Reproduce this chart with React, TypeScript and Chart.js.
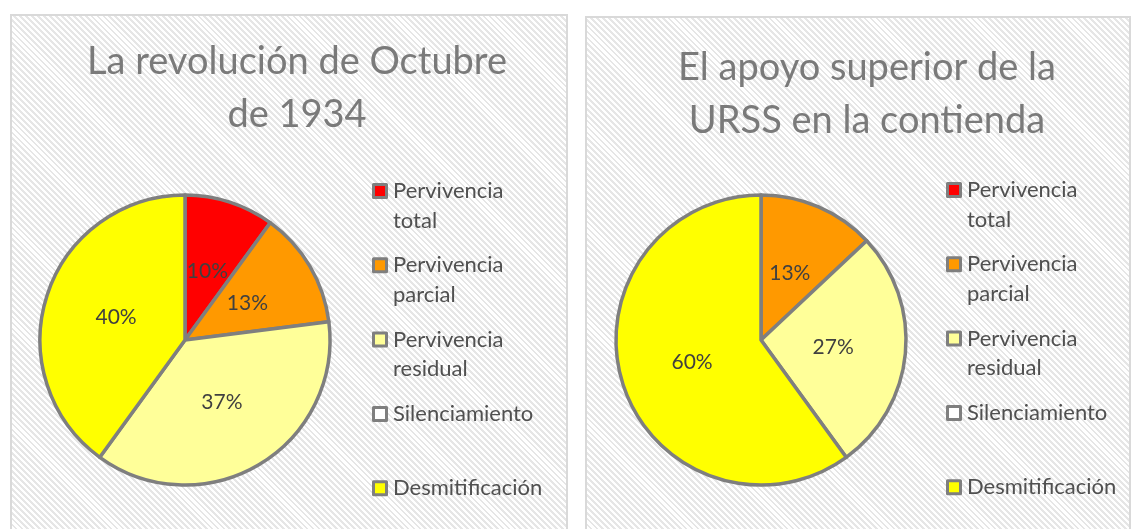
import React, { useEffect, useRef } from "react";
import { Chart, registerables } from "chart.js";

Chart.register(...registerables);

// ---- data ----
const categories = [
  "Pervivencia total",
  "Pervivencia parcial",
  "Pervivencia residual",
  "Silenciamiento",
  "Desmitificación",
];
const sliceColors = ["#FF0000", "#FF9900", "#FFFF99", "#FFFFFF", "#FFFF00"];
const octubreValues = [10, 13, 37, 0, 40];
const urssValues = [0, 13, 27, 0, 60];
const octubreTitle = ["La revolución de Octubre", "de 1934"];
const urssTitle = ["El apoyo superior de la", "URSS en la contienda"];

const FONT = "Lato, 'Open Sans', sans-serif";
const BORDER = "#7f7f7f";

const cardPlugin = {
  id: "card",
  afterDraw(chart: any, _args: any, opts: any) {
    const ctx = chart.ctx as CanvasRenderingContext2D;
    ctx.save();
    // title
    ctx.fillStyle = "#7a7a7a";
    ctx.font = `${opts.titleSize}px ${FONT}`;
    ctx.textAlign = "center";
    ctx.textBaseline = "middle";
    (opts.title as string[]).forEach((line, i) =>
      ctx.fillText(line, opts.titleX, opts.titleY + i * opts.titleLineHeight)
    );

    // data labels
    const meta = chart.getDatasetMeta(0);
    const data = chart.data.datasets[0].data as number[];
    ctx.fillStyle = "#404040";
    ctx.font = `${opts.labelSize}px ${FONT}`;
    meta.data.forEach((arc: any, i: number) => {
      if (!data[i]) return;
      const p = arc.tooltipPosition();
      ctx.fillText(data[i] + "%", p.x, p.y);
    });

    // legend
    const labels = chart.data.labels as string[];
    const colors = chart.data.datasets[0].backgroundColor as string[];
    ctx.textAlign = "left";
    ctx.font = `${opts.legendSize}px ${FONT}`;
    labels.forEach((label, i) => {
      const cy = opts.legendY + i * opts.legendStep;
      const bx = opts.legendX;
      const s = opts.boxSize;
      ctx.fillStyle = colors[i];
      ctx.fillRect(bx + 1.5, cy - s / 2 + 1.5, s - 3, s - 3);
      ctx.strokeStyle = BORDER;
      ctx.lineWidth = 3;
      ctx.lineJoin = "round";
      ctx.strokeRect(bx + 1.5, cy - s / 2 + 1.5, s - 3, s - 3);
      ctx.fillStyle = "#505050";
      label.split(" ").forEach((ln, j) => {
        ctx.fillText(ln, bx + opts.textGap, cy + j * opts.legendLineHeight);
      });
    });
    ctx.restore();
  },
};

type CardProps = {
  left: number;
  top: number;
  width: number;
  height: number;
  values: number[];
  title: string[];
  padding: { left: number; top: number; right: number; bottom: number };
  titleX: number;
  titleY: number;
  legendX: number;
  legendY: number;
};

function PieCard(p: CardProps) {
  const ref = useRef<HTMLCanvasElement | null>(null);
  const cw = p.width - 4;
  const ch = p.height - 2;

  useEffect(() => {
    if (!ref.current) return;
    const chart = new Chart(ref.current, {
      type: "pie",
      data: {
        labels: categories,
        datasets: [
          {
            data: p.values,
            backgroundColor: sliceColors,
            borderColor: BORDER,
            borderWidth: 3.5,
            hoverOffset: 0,
            borderJoinStyle: "round",
          } as any,
        ],
      },
      options: {
        animation: false,
        responsive: false,
        devicePixelRatio: 1,
        radius: 145,
        layout: { padding: p.padding },
        events: [],
        plugins: {
          legend: { display: false },
          title: { display: false },
          tooltip: { enabled: false },
          card: {
            title: p.title,
            titleX: p.titleX,
            titleY: p.titleY,
            titleSize: 38,
            titleLineHeight: 53,
            labelSize: 21,
            legendSize: 22,
            legendX: p.legendX,
            legendY: p.legendY,
            legendStep: 74.3,
            legendLineHeight: 29.5,
            boxSize: 16,
            textGap: 21,
          },
        } as any,
      } as any,
      plugins: [cardPlugin as any],
    });
    return () => chart.destroy();
  }, []);

  return (
    <div
      style={{
        position: "absolute",
        left: p.left,
        top: p.top,
        width: p.width,
        height: p.height,
        boxSizing: "border-box",
        border: "2px solid #d9d9d9",
        borderBottom: "none",
        background:
          "repeating-linear-gradient(45deg, #ffffff 0px, #ffffff 2.2px, #e6e6e6 2.2px, #e6e6e6 4.2px)",
        overflow: "hidden",
      }}
    >
      <canvas ref={ref} width={cw} height={ch} style={{ display: "block", width: cw, height: ch }} />
    </div>
  );
}

export default function App() {
  useEffect(() => {
    document.body.style.overflow = "hidden";
  }, []);
  return (
    <div>
      <PieCard
        left={10}
        top={14}
        width={558}
        height={515}
        values={octubreValues}
        title={octubreTitle}
        padding={{ left: 23, top: 174, right: 231, bottom: 39 }}
        titleX={285}
        titleY={46}
        legendX={360}
        legendY={175}
      />
      <PieCard
        left={585}
        top={16}
        width={546}
        height={513}
        values={urssValues}
        title={urssTitle}
        padding={{ left: 24, top: 172, right: 218, bottom: 39 }}
        titleX={280}
        titleY={50}
        legendX={359}
        legendY={172}
      />
    </div>
  );
}
